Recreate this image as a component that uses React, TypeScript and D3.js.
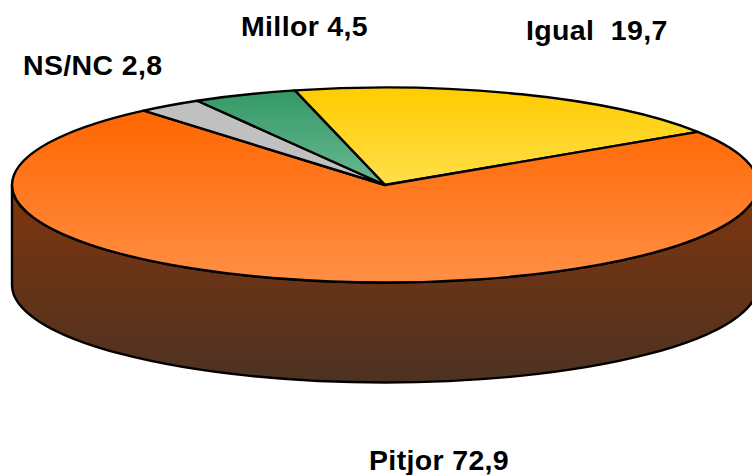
import React from "react";
import * as d3 from "d3";

const categories = ["Igual", "Pitjor", "NS/NC", "Millor"];
const values = [19.7, 72.9, 2.8, 4.5];
const labelTexts = ["Igual  19,7", "Pitjor 72,9", "NS/NC 2,8", "Millor 4,5"];
const labelX = [526, 369, 23, 241];
const labelY = [40, 470, 75, 35.5];
const gradientStops = [
  ["#ffcc00", "#ffdf4a"],
  ["#ff6600", "#ff8f45"],
  ["#c0c0c0", "#c0c0c0"],
  ["#339966", "#6bb892"],
];

const W = 752, H = 475;
const cx = 385, cy = 185, rx = 373, ry = 97.5, depth = 100;

export default function App() {
  const start = (-14 * Math.PI) / 180;
  const arcs = d3.pie<number>().sort(null).startAngle(start).endAngle(start + 2 * Math.PI)(values);
  const total = d3.sum(values);
  const yScale = d3.scaleLinear().domain([-1, 1]).range([cy - ry, cy + ry]);
  const xScale = d3.scaleLinear().domain([-1, 1]).range([cx - rx, cx + rx]);
  const pt = (a: number) => [xScale(Math.sin(a)), yScale(-Math.cos(a))];
  const slicePath = (a0: number, a1: number) => {
    const [x0, y0] = pt(a0);
    const [x1, y1] = pt(a1);
    const large = a1 - a0 > Math.PI ? 1 : 0;
    return `M${cx},${cy}L${x0},${y0}A${rx},${ry} 0 ${large} 1 ${x1},${y1}Z`;
  };
  const side = `M${cx - rx},${cy}L${cx - rx},${cy + depth}A${rx},${ry} 0 0 0 ${cx + rx},${cy + depth}L${cx + rx},${cy}A${rx},${ry} 0 0 1 ${cx - rx},${cy}Z`;
  return (
    <svg width={W} height={H} style={{ position: "absolute", left: 0, top: 0, background: "#fff" }}>
      <defs>
        <linearGradient id="side" gradientUnits="userSpaceOnUse" x1="0" x2="0" y1={cy} y2={cy + ry + depth}>
          <stop offset="0" stopColor="#80350c" />
          <stop offset="1" stopColor="#4d3222" />
        </linearGradient>
        {categories.map((c, i) => (
          <linearGradient key={c} id={`g${i}`} x1="0" x2="0" y1="0" y2="1">
            <stop offset="0" stopColor={gradientStops[i][0]} />
            <stop offset="1" stopColor={gradientStops[i][1]} />
          </linearGradient>
        ))}
      </defs>
      <path d={side} fill="url(#side)" stroke="#000" strokeWidth={2.4} />
      {arcs.map((a, i) => (
        <path key={categories[i]} d={slicePath(a.startAngle, a.endAngle)} fill={`url(#g${i})`} stroke="#000" strokeWidth={2.4} strokeLinejoin="round" data-value={a.value / total} />
      ))}
      {labelTexts.map((t, i) => (
        <text key={t} x={labelX[i]} y={labelY[i]} fontFamily="Liberation Sans" fontWeight="bold" fontSize={28.5} letterSpacing={0.35} fill="#000" style={{ whiteSpace: "pre" }}>{t}</text>
      ))}
    </svg>
  );
}
